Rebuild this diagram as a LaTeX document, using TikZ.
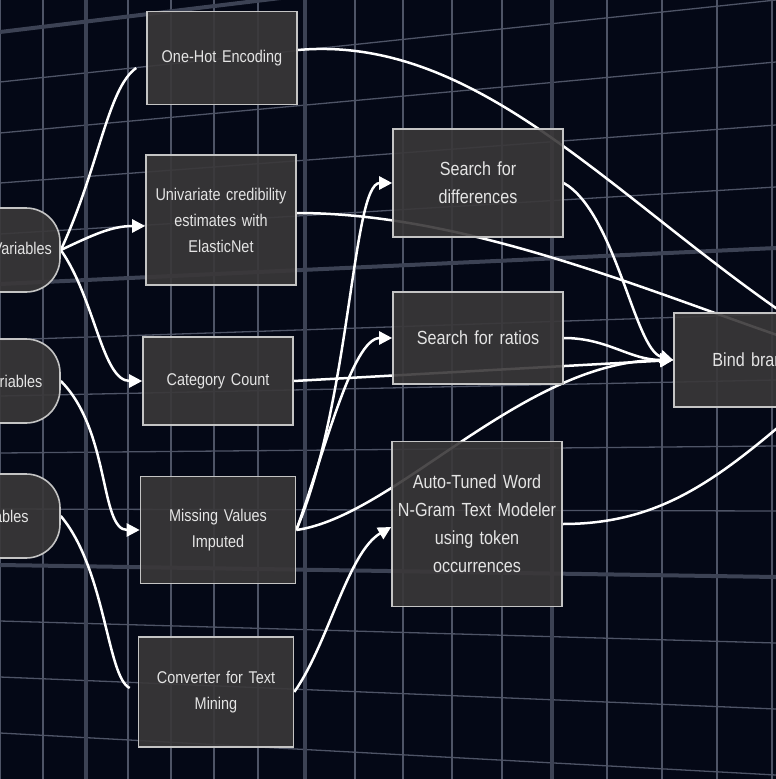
\documentclass[tikz,border=0pt]{standalone}
\usepackage{fontspec}
\setmainfont{Liberation Sans}[FakeStretch=0.85]
\usetikzlibrary{arrows.meta,backgrounds}
\definecolor{screennavy}{RGB}{4,8,22}
\definecolor{gridminor}{RGB}{78,84,102}
\definecolor{gridmajor}{RGB}{60,66,84}
\definecolor{boxfill}{RGB}{58,56,57}
\definecolor{boxline}{RGB}{196,196,196}
\definecolor{boxtext}{RGB}{228,228,228}

\begin{document}
\begin{tikzpicture}[x=1pt, y=1pt,
    box/.style={rectangle, draw=boxline, fill=boxfill, fill opacity=0.9, text opacity=1, text=boxtext, line width=1.6pt, text width=150pt, inner sep=0pt, align=center, font=\fontsize{17}{26}\selectfont},
    wbox/.style={box, text width=170pt, font=\fontsize{19}{28}\selectfont},
    pill/.style={box, rounded corners=34pt, minimum height=84pt, text width=154pt},
    arrow/.style={-{Triangle[length=13pt, width=13pt]}, line width=2.5pt, white},
    link/.style={line width=2.5pt, white},
    minor/.style={gridminor, line width=1.3pt},
    major/.style={gridmajor, line width=4pt}
]
    \useasboundingbox (0,0) rectangle (776,-779);
    \clip (0,0) rectangle (776,-779);

    % Input variables, cut off at the left edge
    \node[pill] (catvars) at (-17,-250) {Categorical Variables};
    \node[pill] (numvars) at (-17,-381) {Numeric Variables};
    \node[pill] (textvars) at (-17,-516) {Text Variables};

    % First column of tasks
    \node[box, minimum height=93pt] (onehot) at (222,-58) {One-Hot Encoding};
    \node[box, minimum height=130pt] (credib) at (221,-220) {Univariate credibility\\ estimates with\\ ElasticNet};
    \node[box, minimum height=88pt] (catcount) at (218,-381) {Category Count};
    \node[box, minimum height=107pt, text width=155pt] (missing) at (218,-530) {Missing Values\\ Imputed};
    \node[box, minimum height=110pt, text width=155pt] (converter) at (216,-692) {Converter for Text\\ Mining};

    % Second column and the bind box
    \node[wbox, minimum height=108pt] (diffs) at (478,-183) {Search for\\ differences};
    \node[wbox, minimum height=92pt] (ratios) at (478,-338) {Search for ratios};
    \node[wbox, minimum height=165pt] (ngram) at (477,-524) {Auto-Tuned Word\\ N-Gram Text Modeler\\ using token\\ occurrences};
    \node[wbox, minimum height=94pt, text width=182pt] (bind) at (765,-360) {Bind branches};

    \begin{scope}[on background layer]
        \clip (0,0) rectangle (776,-779);
        \fill[screennavy] (0,0) rectangle (776,-779);
        % Grid
        \foreach \xg in {0,43,128,171,214,258,355,403,452,502,607,662,717,772}
            \draw[minor] (\xg,0) -- (\xg,-779);
        \foreach \yl/\yr in {-82/0,-133/-62,-183/-125,-234/-187,-340/-314,-396/-380,-453/-446,-509/-511,-621/-643,-677/-709,-733/-775,-789/-841}
            \draw[minor] (0,\yl) -- (776,\yr);
        \foreach \xg in {86,305,552}
            \draw[major] (\xg,0) -- (\xg,-779);
        \foreach \yl/\yr in {-32/62,-284/-248,-565/-577}
            \draw[major] (0,\yl) -- (776,\yr);

        % Arrows into the first column
        \draw[link] (catvars.east) to[out=65, in=215, out distance=90pt, in distance=35pt] ([xshift=-10pt, yshift=-10pt]onehot.west);
        \draw[arrow] (catvars.east) to[out=25, in=180] ([yshift=-6pt]credib.west);
        \draw[arrow] (catvars.east) to[out=-55, in=180, out distance=60pt, in distance=40pt] (catcount.west);
        \draw[arrow] (numvars.east) to[out=-45, in=180, out distance=70pt, in distance=40pt] (missing.west);
        \draw[link] (textvars.east) to[out=-50, in=155, out distance=70pt, in distance=25pt] ([xshift=-8pt, yshift=4pt]converter.west);

        % Arrows into the second column
        \draw[arrow] (missing.east) to[out=67, in=180, out distance=140pt, in distance=40pt] (diffs.west);
        \draw[arrow] (missing.east) to[out=70, in=180, out distance=80pt, in distance=40pt] (ratios.west);
        \draw[arrow] (converter.east) to[out=55, in=210, out distance=60pt, in distance=50pt] ([yshift=-3pt]ngram.west);

        % Arrows into bind
        \draw[arrow] (catcount.east) -- (bind.west);
        \draw[arrow] (missing.east) to[out=8, in=180, out distance=100pt, in distance=150pt] (bind.west);
        \draw[arrow] (diffs.east) to[out=-30, in=165, out distance=60pt, in distance=40pt] (bind.west);
        \draw[arrow] (ratios.east) to[out=0, in=180] (bind.west);
        \draw[link] ([yshift=8pt]onehot.east) to[out=5, in=150, out distance=200pt, in distance=250pt] (bind.east);
        \draw[link] ([yshift=7pt]credib.east) to[out=0, in=165, out distance=200pt, in distance=150pt] (bind.east);
        \draw[link] (ngram.east) to[out=0, in=220, out distance=120pt, in distance=150pt] (bind.east);
    \end{scope}
\end{tikzpicture}
\end{document}
